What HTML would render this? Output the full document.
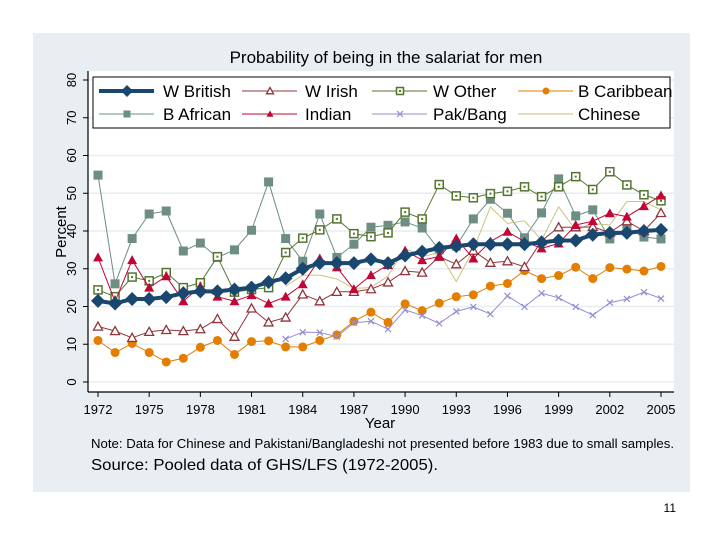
<!DOCTYPE html>
<html><head><meta charset="utf-8"><style>
body{margin:0;background:#fff;width:720px;height:540px;overflow:hidden}
svg text{font-family:"Liberation Sans",sans-serif}
</style></head><body>
<svg width="720" height="540" xmlns="http://www.w3.org/2000/svg">
<rect x="33" y="33" width="657" height="459" fill="#e8eef1"/>
<rect x="88" y="71" width="586" height="321" fill="#fff"/>
<text x="386" y="63" font-size="17" text-anchor="middle">Probability of being in the salariat for men</text>
<g id="grid"></g><g id="series"></g>
<line x1="88" y1="71" x2="88" y2="392" stroke="#000" stroke-width="1.2"/>
<line x1="88" y1="392" x2="674" y2="392" stroke="#000" stroke-width="1.2"/>
<g id="ticks"></g>
<text transform="translate(66,232) rotate(-90)" font-size="15" text-anchor="middle">Percent</text>
<text x="380" y="428" font-size="15" text-anchor="middle">Year</text>
<rect x="93" y="77" width="577" height="51" fill="#fff" stroke="#000" stroke-width="1"/>
<g id="legend"></g>
<text x="91" y="448" font-size="12.5" textLength="583" lengthAdjust="spacingAndGlyphs">Note: Data for Chinese and Pakistani/Bangladeshi not presented before 1983 due to small samples.</text>
<text x="91" y="470" font-size="16" textLength="347" lengthAdjust="spacingAndGlyphs">Source: Pooled data of GHS/LFS (1972-2005).</text>
<text x="676" y="512" font-size="12" text-anchor="end">11</text>
</svg>
<script>
const years=[];for(let y=1972;y<=2005;y++)years.push(y);
const yTicks=[0,10,20,30,40,50,60,70,80];
const xTicks=[1972,1975,1978,1981,1984,1987,1990,1993,1996,1999,2002,2005];
const wBritish=[21.5,20.8,22,22,22.5,23.5,24,24,24.5,25,26.5,27.5,30,31.5,31.5,31.5,32.5,31.5,33.5,34.5,35.5,36,36.5,36.5,36.5,36.5,37,37.5,37.5,39,39.5,39.5,40,40.3];
const wIrish=[14.7,13.5,11.7,13.3,13.8,13.5,14,16.7,12,19.5,15.8,17.1,23.2,21.4,23.9,23.9,24.6,26.4,29.4,29,33.2,31.2,34.8,31.6,32,30.5,37.4,41,41,41.1,39.6,42.6,40,44.8];
const wOther=[24.4,22.6,27.8,26.8,29,25,26.3,33.2,23.8,24.5,25,34.3,38.1,40.3,43.2,39.3,38.5,39.5,45,43.2,52.3,49.3,48.8,49.9,50.5,51.7,49.1,51.7,54.4,51,55.7,52.2,49.6,48];
const bCaribbean=[11,7.8,10.2,7.8,5.3,6.3,9.2,11,7.3,10.7,10.9,9.3,9.3,11,12.5,16.1,18.5,15.8,20.7,18.9,20.9,22.6,23.1,25.4,26.1,29.5,27.4,28.2,30.4,27.4,30.3,29.9,29.4,30.6];
const bAfrican=[54.8,26,38,44.5,45.3,34.7,36.8,33,35,40.2,53,38,32,44.5,33,36.5,41,41.5,42.4,40.8,35,36,43.2,48.4,44.7,38.2,44.8,53.8,44,45.6,37.9,40.9,38.4,37.9];
const indian=[33,21.3,32.3,25,28,21.4,25.3,22.6,21.4,23,20.8,22.6,25.9,32.7,30.4,24.6,28.3,31,34.8,32.3,33.2,38,32.7,37.2,39.8,37.2,35.4,36.7,41.6,42.6,44.7,43.8,46.6,49.4];
const pakBang=[null,null,null,null,null,null,null,null,null,null,null,11.4,13.2,13.1,12,15.7,16.1,14,19.1,17.6,15.5,18.7,19.9,18,22.8,19.9,23.5,22.3,19.9,17.7,21,22,23.8,22.1];
const chinese=[null,null,null,null,null,null,null,null,null,null,null,25.4,28.3,28.3,27.3,24.8,25,28.1,35.4,33.2,34.3,26.6,35,46.4,42,42.7,37.6,46.4,40.3,42,41.6,47.8,47.8,45.6];
const NS="http://www.w3.org/2000/svg";
const X=v=>98+(v-1972)*(563/33);
const Y=v=>382-v*3.775;
function mk(p,t,a){const e=document.createElementNS(NS,t);for(const k in a)e.setAttribute(k,a[k]);p.appendChild(e);return e;}
const grid=document.getElementById('grid'),ticks=document.getElementById('ticks'),ser=document.getElementById('series'),leg=document.getElementById('legend');
yTicks.forEach(t=>{
 const g=mk(grid,'line',{x1:88,x2:674,y1:Y(t),y2:Y(t),stroke:'#e6edf0','stroke-width':1.5});
 
 
 const tk=mk(ticks,'line',{x1:83,x2:88,y1:Y(t),y2:Y(t),stroke:'#000'});
 
 
 const tx=mk(ticks,'text',{transform:`translate(76,${Y(t)}) rotate(-90)`,'font-size':13,'text-anchor':'middle'});
 tx.textContent=t;
 
 
});
xTicks.forEach(t=>{
 const tk=mk(ticks,'line',{x1:X(t),x2:X(t),y1:392,y2:397,stroke:'#000'});
 
 
 const tx=mk(ticks,'text',{x:X(t),y:414,'font-size':13,'text-anchor':'middle'});
 tx.textContent=t;
 
 
});
function marker(g,m,x,y,c,s){
 if(m==='diamond')return mk(g,'polygon',{points:`${x},${y-s} ${x+s},${y} ${x},${y+s} ${x-s},${y}`,fill:c});
 if(m==='tri')return mk(g,'polygon',{points:`${x},${y-s} ${x+s},${y+s*0.8} ${x-s},${y+s*0.8}`,fill:'#fff',stroke:c,'stroke-width':1.3});
 if(m==='ftri')return mk(g,'polygon',{points:`${x},${y-s} ${x+s},${y+s*0.8} ${x-s},${y+s*0.8}`,fill:c});
 if(m==='osq'){const r=mk(g,'rect',{x:x-s,y:y-s,width:2*s,height:2*s,fill:'#fff',stroke:c,'stroke-width':1.5});mk(g,'rect',{x:x-1,y:y-1,width:2,height:2,fill:c});return r;}
 if(m==='sq')return mk(g,'rect',{x:x-s,y:y-s,width:2*s,height:2*s,fill:c});
 if(m==='dot')return mk(g,'circle',{cx:x,cy:y,r:s,fill:c});
 if(m==='x')return mk(g,'path',{d:`M${x-s},${y-s}L${x+s},${y+s}M${x-s},${y+s}L${x+s},${y-s}`,stroke:c,'stroke-width':1.2});
 return null;
}
const defs=[
 {n:'B African',d:bAfrican,c:'#6e8e84',m:'sq',w:1,s:4.5,col:0,row:1},
 {n:'W Other',d:wOther,c:'#55752f',m:'osq',w:1,s:4,col:2,row:0},
 {n:'Chinese',d:chinese,c:'#cac27e',m:null,w:1,s:0,col:3,row:1},
 {n:'B Caribbean',d:bCaribbean,c:'#e37e00',m:'dot',w:1,s:4.5,col:3,row:0},
 {n:'Pak/Bang',d:pakBang,c:'#938dd2',m:'x',w:1,s:3,col:2,row:1},
 {n:'W Irish',d:wIrish,c:'#90353b',m:'tri',w:1,s:4.5,col:1,row:0},
 {n:'Indian',d:indian,c:'#c10534',m:'ftri',w:1,s:5,col:1,row:1},
 {n:'W British',d:wBritish,c:'#1a476f',m:'diamond',w:4,s:7,col:0,row:0}
];
const slug=n=>n.toLowerCase().replace(/[^a-z]+/g,'-');
defs.forEach(s=>{
 const g=mk(ser,'g',{});
 
 
 let d='';s.d.forEach((v,i)=>{if(v==null)return;d+=(d?'L':'M')+X(years[i])+','+Y(v);});
 const p=mk(g,'path',{d:d,fill:'none',stroke:s.c,'stroke-width':s.w,'stroke-linejoin':'round'});
 
 
 if(s.m)s.d.forEach((v,i)=>{if(v==null)return;const e=marker(g,s.m,X(years[i]),Y(v),s.c,s.s);
  
  });
 const lx=[99,242,372,518][s.col],tx=[163,305,433,578][s.col],ly=[91,114][s.row];
 const lg=mk(leg,'g',{});
 
 
 mk(lg,'line',{x1:lx,x2:lx+55,y1:ly,y2:ly,stroke:s.c,'stroke-width':s.w});
 if(s.m)marker(lg,s.m,lx+28,ly,s.c,s.m==='diamond'?6:Math.min(s.s,3.5));
 const t=mk(lg,'text',{x:tx,y:ly+6,'font-size':17});t.textContent=s.n;
});
</script>
</body></html>
